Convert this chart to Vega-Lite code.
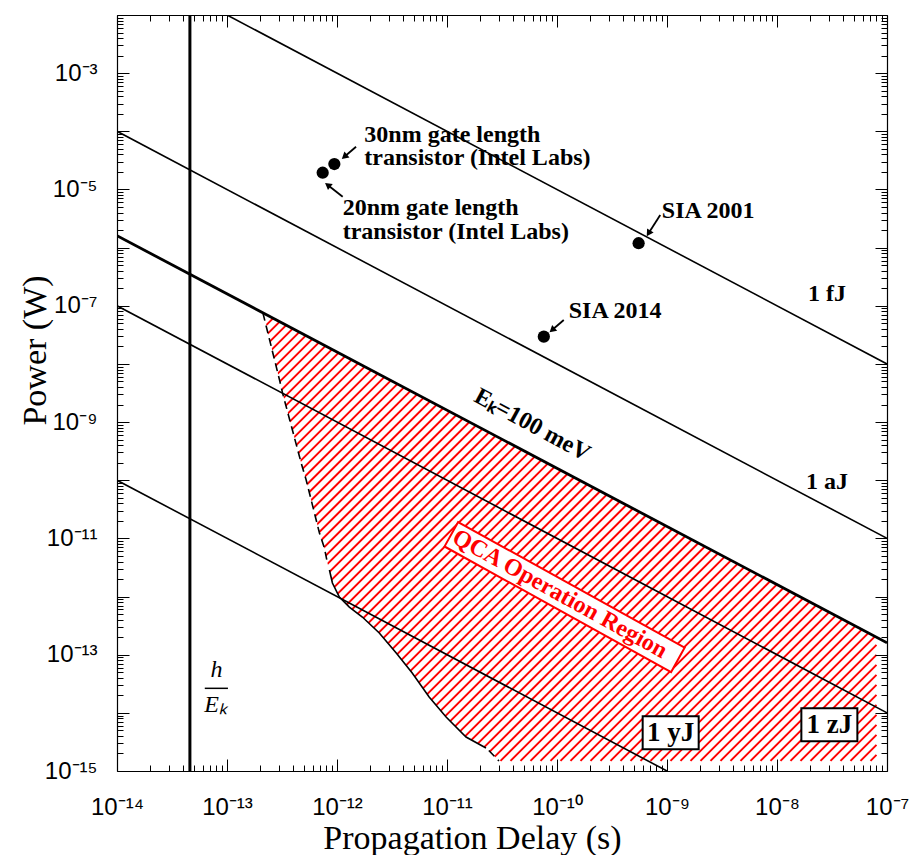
{
"$schema": "https://vega.github.io/schema/vega-lite/v6.json",
"width": 770, "height": 756,
"autosize": {"type": "none"},
"padding": {"left": 117, "top": 15, "right": 23, "bottom": 84},
"background": "white",
"config": {"view": {"stroke": null}},
"datasets": {
 "boundary": [
  {"seg": "dash1", "t": 2.120e-13, "P": 7.557e-8},
  {"seg": "dash1", "t": 3.004e-13, "P": 5.285e-9},
  {"seg": "dash1", "t": 3.199e-13, "P": 3.159e-9},
  {"seg": "dash1", "t": 4.726e-13, "P": 1.976e-10},
  {"seg": "dash1", "t": 5.246e-13, "P": 1.008e-10},
  {"seg": "dash1", "t": 6.925e-13, "P": 1.236e-11},
  {"seg": "dash1", "t": 7.686e-13, "P": 6.823e-12},
  {"seg": "dash1", "t": 8.185e-13, "P": 3.767e-12},
  {"seg": "solid", "t": 8.535e-13, "P": 2.856e-12},
  {"seg": "solid", "t": 9.085e-13, "P": 1.707e-12},
  {"seg": "solid", "t": 1.051e-12, "P": 9.80e-13},
  {"seg": "solid", "t": 1.295e-12, "P": 6.597e-13},
  {"seg": "solid", "t": 1.700e-12, "P": 4.441e-13},
  {"seg": "solid", "t": 2.423e-12, "P": 2.357e-13},
  {"seg": "solid", "t": 3.455e-12, "P": 1.068e-13},
  {"seg": "solid", "t": 4.828e-12, "P": 4.834e-14},
  {"seg": "solid", "t": 6.882e-12, "P": 1.869e-14},
  {"seg": "solid", "t": 9.813e-12, "P": 8.470e-15},
  {"seg": "solid", "t": 1.490e-11, "P": 3.836e-15},
  {"seg": "solid", "t": 2.262e-11, "P": 2.480e-15},
  {"seg": "dash2", "t": 2.400e-11, "P": 2.250e-15},
  {"seg": "dash2", "t": 2.967e-11, "P": 1.483e-15}
 ],
 "lines": [
  {"name": "1 fJ", "t": 1e-14, "P": 1e-1}, {"name": "1 fJ", "t": 1e-7, "P": 1e-8},
  {"name": "1 aJ", "t": 1e-14, "P": 1e-4}, {"name": "1 aJ", "t": 1e-7, "P": 1e-11},
  {"name": "1 zJ", "t": 1e-14, "P": 1e-7}, {"name": "1 zJ", "t": 1e-7, "P": 1e-14},
  {"name": "1 yJ", "t": 1e-14, "P": 1e-10}, {"name": "1 yJ", "t": 1e-9, "P": 1e-15},
  {"name": "Ek", "t": 1e-14, "P": 1.602e-6}, {"name": "Ek", "t": 1e-7, "P": 1.602e-13}
 ],
 "devices": [
  {"name": "30nm", "t": 9.46e-13, "P": 2.74e-5},
  {"name": "20nm", "t": 7.41e-13, "P": 1.94e-5},
  {"name": "SIA 2001", "t": 5.52e-10, "P": 1.19e-6},
  {"name": "SIA 2014", "t": 7.59e-11, "P": 2.94e-8}
 ],
 "arrows": [
  {"name": "SIA 2001", "t0": 8.68e-10, "P0": 3.635e-6, "t1": 6.796e-10, "P1": 1.762e-6, "dir": 212.6},
  {"name": "SIA 2014", "t0": 1.152e-10, "P0": 5.689e-8, "t1": 9.03e-11, "P1": 3.828e-8, "dir": 229.4},
  {"name": "30nm", "t0": 1.49e-12, "P0": 5.435e-5, "t1": 1.167e-12, "P1": 3.658e-5, "dir": 229.4},
  {"name": "20nm", "t0": 1.126e-12, "P0": 7.503e-6, "t1": 8.234e-13, "P1": 1.193e-5, "dir": 307.9}
 ],
 "labels": [
  {"text": ["30nm gate length", "transistor (Intel Labs)"], "t": 1.772e-12, "P": 6.625e-5},
  {"text": ["20nm gate length", "transistor (Intel Labs)"], "t": 1.126e-12, "P": 3.635e-6},
  {"text": ["SIA 2001"], "t": 8.97e-10, "P": 3.19e-6},
  {"text": ["SIA 2014"], "t": 1.279e-10, "P": 6.23e-8},
  {"text": ["1 fJ"], "t": 1.918e-8, "P": 1.207e-7},
  {"text": ["1 aJ"], "t": 1.839e-8, "P": 7.06e-11}
 ],
 "boxes": [
  {"text": "1 yJ", "t": 1.080e-9, "P": 4.548e-15},
  {"text": "1 zJ", "t": 2.992e-8, "P": 6.243e-15}
 ]
},
"resolve": {"axis": {"x": "independent", "y": "independent"}},
"layer": [
 {
  "data": {"values": [{"name": "QCA Operation Region", "t": 1.2988e-10, "P": 1.060e-11}]},
  "mark": {"type": "point", "clip": true, "filled": false, "color": "red", "stroke": "red", "strokeWidth": 2, "opacity": 1, "size": 4,
   "shape": "M-303,-222L-301,-224M-303,-212L-291,-224M-303,-202L-281,-224M-303,-192L-271,-224M-303,-182L-261,-224M-303,-172L-251,-224M-303,-162L-241,-224M-303,-152L-231,-224M-303,-142L-221,-224M-303,-132L-211,-224M-303,-122L-201,-224M-303,-112L-191,-224M-303,-102L-181,-224M-303,-92L-171,-224M-303,-82L-161,-224M-303,-72L-151,-224M-303,-62L-141,-224M-303,-52L-131,-224M-303,-42L-121,-224M-303,-32L-111,-224M-303,-22L-101,-224M-303,-12L-91,-224M-303,-2L-81,-224M-303,8L-71,-224M-303,18L-61,-224M-303,28L-51,-224M-303,38L-41,-224M-303,48L-31,-224M-303,58L-21,-224M-303,68L-11,-224M-303,78L-1,-224M-303,88L9,-224M-303,98L19,-224M-303,108L29,-224M-303,118L39,-224M-303,128L49,-224M-303,138L59,-224M-303,148L69,-224M-303,158L79,-224M-303,168L89,-224M-303,178L99,-224M-303,188L109,-224M-303,198L119,-224M-303,208L129,-224M-303,218L139,-224M-299,224L149,-224M-289,224L159,-224M-279,224L169,-224M-269,224L179,-224M-259,224L189,-224M-249,224L199,-224M-239,224L209,-224M-229,224L219,-224M-219,224L229,-224M-209,224L239,-224M-199,224L249,-224M-189,224L259,-224M-179,224L269,-224M-169,224L279,-224M-159,224L289,-224M-149,224L299,-224M-139,224L307,-222M-129,224L307,-212M-119,224L307,-202M-109,224L307,-192M-99,224L307,-182M-89,224L307,-172M-79,224L307,-162M-69,224L307,-152M-59,224L307,-142M-49,224L307,-132M-39,224L307,-122M-29,224L307,-112M-19,224L307,-102M-9,224L307,-92M1,224L307,-82M11,224L307,-72M21,224L307,-62M31,224L307,-52M41,224L307,-42M51,224L307,-32M61,224L307,-22M71,224L307,-12M81,224L307,-2M91,224L307,8M101,224L307,18M111,224L307,28M121,224L307,38M131,224L307,48M141,224L307,58M151,224L307,68M161,224L307,78M171,224L307,88M181,224L307,98M191,224L307,108M201,224L307,118M211,224L307,128M221,224L307,138M231,224L307,148M241,224L307,158M251,224L307,168M261,224L307,178M271,224L307,188M281,224L307,198M291,224L307,208M301,224L307,218"},
  "encoding": {
   "x": {"field": "t", "type": "quantitative", "scale": {"type": "log", "domain": [1e-14, 1e-7], "nice": false}, "axis": null},
   "y": {"field": "P", "type": "quantitative", "scale": {"type": "log", "domain": [1e-15, 1e-2], "nice": false}, "axis": null}
  }
 },
 {
  "data": {"name": "lines"},
  "transform": [{"filter": "datum.name === 'Ek'"}],
  "mark": {"type": "area", "clip": true, "color": "white", "opacity": 1},
  "encoding": {
   "x": {"field": "t", "type": "quantitative", "scale": {"type": "log", "domain": [1e-14, 1e-7], "nice": false}, "axis": null},
   "y": {"field": "P", "type": "quantitative", "scale": {"type": "log", "domain": [1e-15, 1e-2], "nice": false}, "axis": null},
   "y2": {"datum": 0.01}
  }
 },
 {
  "data": {"name": "boundary"},
  "mark": {"type": "area", "clip": true, "color": "white", "opacity": 1},
  "encoding": {
   "x": {"field": "t", "type": "quantitative", "scale": {"type": "log", "domain": [1e-14, 1e-7], "nice": false}, "axis": null},
   "y": {"field": "P", "type": "quantitative", "scale": {"type": "log", "domain": [1e-15, 1e-2], "nice": false}, "axis": null},
   "y2": {"datum": 1e-15}
  }
 },
 {
  "data": {"name": "boundary"},
  "transform": [{"filter": "datum.seg !== 'solid'"}],
  "mark": {"type": "line", "clip": true, "color": "black", "strokeWidth": 1.6, "strokeDash": [8, 5]},
  "encoding": {
   "x": {"field": "t", "type": "quantitative", "scale": {"type": "log", "domain": [1e-14, 1e-7], "nice": false}, "axis": null},
   "y": {"field": "P", "type": "quantitative", "scale": {"type": "log", "domain": [1e-15, 1e-2], "nice": false}, "axis": null},
   "detail": {"field": "seg"}
  }
 },
 {
  "data": {"name": "boundary"},
  "transform": [{"filter": "datum.seg === 'solid'"}],
  "mark": {"type": "line", "clip": true, "color": "black", "strokeWidth": 1.6},
  "encoding": {
   "x": {"field": "t", "type": "quantitative", "scale": {"type": "log", "domain": [1e-14, 1e-7], "nice": false}, "axis": null},
   "y": {"field": "P", "type": "quantitative", "scale": {"type": "log", "domain": [1e-15, 1e-2], "nice": false}, "axis": null}
  }
 },
 {
  "data": {"name": "lines"},
  "transform": [{"filter": "datum.name !== 'Ek'"}],
  "mark": {"type": "line", "clip": true, "color": "black", "strokeWidth": 1.6},
  "encoding": {
   "x": {"field": "t", "type": "quantitative", "scale": {"type": "log", "domain": [1e-14, 1e-7], "nice": false},
    "axis": {"orient": "bottom", "zindex": 1,
     "values": [1e-14,2e-14,3e-14,4e-14,5e-14,6e-14,7e-14,8e-14,9e-14,1e-13,2e-13,3e-13,4e-13,5e-13,6e-13,7e-13,8e-13,9e-13,1e-12,2e-12,3e-12,4e-12,5e-12,6e-12,7e-12,8e-12,9e-12,1e-11,2e-11,3e-11,4e-11,5e-11,6e-11,7e-11,8e-11,9e-11,1e-10,2e-10,3e-10,4e-10,5e-10,6e-10,7e-10,8e-10,9e-10,1e-9,2e-9,3e-9,4e-9,5e-9,6e-9,7e-9,8e-9,9e-9,1e-8,2e-8,3e-8,4e-8,5e-8,6e-8,7e-8,8e-8,9e-8,1e-7],
     "tickSize": {"condition": {"test": "abs(log(datum.value)/LN10-round(log(datum.value)/LN10))<0.001", "value": -12}, "value": -6},
     "tickColor": "black", "tickWidth": 1, "domain": true, "domainColor": "black", "domainWidth": 1.2, "grid": false,
     "labelExpr": "abs(log(datum.value)/LN10-round(log(datum.value)/LN10))<0.001 ? '10⁻' + ((-round(log(datum.value)/LN10)) >= 10 ? '⁰¹²³⁴⁵⁶⁷⁸⁹'[floor((-round(log(datum.value)/LN10))/10)] : '') + '⁰¹²³⁴⁵⁶⁷⁸⁹'[(-round(log(datum.value)/LN10))%10] : ''",
     "labelFont": "Liberation Sans", "labelFontSize": 24, "labelColor": "black", "labelPadding": 55, "labelBaseline": "alphabetic", "labelAlign": "center",
     "labelOverlap": false, "labelFlush": false, "labelBound": false,
     "title": "Propagation Delay (s)", "titleFont": "Liberation Serif", "titleFontSize": 34, "titleFontWeight": "normal", "titleColor": "black",
     "titleX": 355, "titleY": 77, "titleBaseline": "alphabetic", "titleAlign": "center"}},
   "y": {"field": "P", "type": "quantitative", "scale": {"type": "log", "domain": [1e-15, 1e-2], "nice": false},
    "axis": {"orient": "left", "zindex": 1,
     "values": [1e-15,2e-15,3e-15,4e-15,5e-15,6e-15,7e-15,8e-15,9e-15,1e-14,2e-14,3e-14,4e-14,5e-14,6e-14,7e-14,8e-14,9e-14,1e-13,2e-13,3e-13,4e-13,5e-13,6e-13,7e-13,8e-13,9e-13,1e-12,2e-12,3e-12,4e-12,5e-12,6e-12,7e-12,8e-12,9e-12,1e-11,2e-11,3e-11,4e-11,5e-11,6e-11,7e-11,8e-11,9e-11,1e-10,2e-10,3e-10,4e-10,5e-10,6e-10,7e-10,8e-10,9e-10,1e-9,2e-9,3e-9,4e-9,5e-9,6e-9,7e-9,8e-9,9e-9,1e-8,2e-8,3e-8,4e-8,5e-8,6e-8,7e-8,8e-8,9e-8,1e-7,2e-7,3e-7,4e-7,5e-7,6e-7,7e-7,8e-7,9e-7,1e-6,2e-6,3e-6,4e-6,5e-6,6e-6,7e-6,8e-6,9e-6,1e-5,2e-5,3e-5,4e-5,5e-5,6e-5,7e-5,8e-5,9e-5,1e-4,2e-4,3e-4,4e-4,5e-4,6e-4,7e-4,8e-4,9e-4,1e-3,2e-3,3e-3,4e-3,5e-3,6e-3,7e-3,8e-3,9e-3,1e-2],
     "tickSize": {"condition": {"test": "abs(log(datum.value)/LN10-round(log(datum.value)/LN10))<0.001", "value": -12}, "value": -6},
     "tickColor": "black", "tickWidth": 1, "domain": true, "domainColor": "black", "domainWidth": 1.2, "grid": false,
     "labelExpr": "abs(log(datum.value)/LN10-round(log(datum.value)/LN10))<0.001 && (-round(log(datum.value)/LN10))%2==1 ? '10⁻' + ((-round(log(datum.value)/LN10)) >= 10 ? '⁰¹²³⁴⁵⁶⁷⁸⁹'[floor((-round(log(datum.value)/LN10))/10)] : '') + '⁰¹²³⁴⁵⁶⁷⁸⁹'[(-round(log(datum.value)/LN10))%10] : ''",
     "labelFont": "Liberation Sans", "labelFontSize": 24, "labelColor": "black", "labelPadding": 32, "labelBaseline": "middle", "labelAlign": "right",
     "labelOverlap": false, "labelFlush": false, "labelBound": false,
     "title": "Power (W)", "titleFont": "Liberation Serif", "titleFontSize": 34, "titleFontWeight": "normal", "titleColor": "black",
     "titleX": -72, "titleY": 335, "titleBaseline": "alphabetic", "titleAlign": "center", "titleAngle": 270}},
   "detail": {"field": "name"}
  }
 },
 {
  "data": {"name": "lines"},
  "transform": [{"filter": "datum.name === 'Ek'"}],
  "mark": {"type": "line", "clip": true, "color": "black", "strokeWidth": 2.8},
  "encoding": {
   "x": {"field": "t", "type": "quantitative", "scale": {"type": "log", "domain": [1e-14, 1e-7], "nice": false},
    "axis": {"orient": "top", "zindex": 1, "values": [1e-14,2e-14,3e-14,4e-14,5e-14,6e-14,7e-14,8e-14,9e-14,1e-13,2e-13,3e-13,4e-13,5e-13,6e-13,7e-13,8e-13,9e-13,1e-12,2e-12,3e-12,4e-12,5e-12,6e-12,7e-12,8e-12,9e-12,1e-11,2e-11,3e-11,4e-11,5e-11,6e-11,7e-11,8e-11,9e-11,1e-10,2e-10,3e-10,4e-10,5e-10,6e-10,7e-10,8e-10,9e-10,1e-9,2e-9,3e-9,4e-9,5e-9,6e-9,7e-9,8e-9,9e-9,1e-8,2e-8,3e-8,4e-8,5e-8,6e-8,7e-8,8e-8,9e-8,1e-7],
     "tickSize": {"condition": {"test": "abs(log(datum.value)/LN10-round(log(datum.value)/LN10))<0.001", "value": -12}, "value": -6},
     "tickColor": "black", "tickWidth": 1, "domain": true, "domainColor": "black", "domainWidth": 1.2, "grid": false, "labels": false, "title": null}},
   "y": {"field": "P", "type": "quantitative", "scale": {"type": "log", "domain": [1e-15, 1e-2], "nice": false},
    "axis": {"orient": "right", "zindex": 1, "values": [1e-15,2e-15,3e-15,4e-15,5e-15,6e-15,7e-15,8e-15,9e-15,1e-14,2e-14,3e-14,4e-14,5e-14,6e-14,7e-14,8e-14,9e-14,1e-13,2e-13,3e-13,4e-13,5e-13,6e-13,7e-13,8e-13,9e-13,1e-12,2e-12,3e-12,4e-12,5e-12,6e-12,7e-12,8e-12,9e-12,1e-11,2e-11,3e-11,4e-11,5e-11,6e-11,7e-11,8e-11,9e-11,1e-10,2e-10,3e-10,4e-10,5e-10,6e-10,7e-10,8e-10,9e-10,1e-9,2e-9,3e-9,4e-9,5e-9,6e-9,7e-9,8e-9,9e-9,1e-8,2e-8,3e-8,4e-8,5e-8,6e-8,7e-8,8e-8,9e-8,1e-7,2e-7,3e-7,4e-7,5e-7,6e-7,7e-7,8e-7,9e-7,1e-6,2e-6,3e-6,4e-6,5e-6,6e-6,7e-6,8e-6,9e-6,1e-5,2e-5,3e-5,4e-5,5e-5,6e-5,7e-5,8e-5,9e-5,1e-4,2e-4,3e-4,4e-4,5e-4,6e-4,7e-4,8e-4,9e-4,1e-3,2e-3,3e-3,4e-3,5e-3,6e-3,7e-3,8e-3,9e-3,1e-2],
     "tickSize": {"condition": {"test": "abs(log(datum.value)/LN10-round(log(datum.value)/LN10))<0.001", "value": -12}, "value": -6},
     "tickColor": "black", "tickWidth": 1, "domain": true, "domainColor": "black", "domainWidth": 1.2, "grid": false, "labels": false, "title": null}}
  }
 },
 {
  "data": {"values": [{"name": "h/Ek", "t": 4.6e-14}]},
  "mark": {"type": "rule", "clip": true, "color": "black", "strokeWidth": 3},
  "encoding": {
   "x": {"field": "t", "type": "quantitative", "scale": {"type": "log", "domain": [1e-14, 1e-7], "nice": false}, "axis": null}
  }
 },
 {
  "data": {"name": "devices"},
  "mark": {"type": "circle", "size": 150, "color": "black", "opacity": 1},
  "encoding": {
   "x": {"field": "t", "type": "quantitative", "scale": {"type": "log", "domain": [1e-14, 1e-7], "nice": false}, "axis": null},
   "y": {"field": "P", "type": "quantitative", "scale": {"type": "log", "domain": [1e-15, 1e-2], "nice": false}, "axis": null}
  }
 },
 {
  "data": {"name": "arrows"},
  "mark": {"type": "rule", "color": "black", "strokeWidth": 1.8},
  "encoding": {
   "x": {"field": "t0", "type": "quantitative", "scale": {"type": "log", "domain": [1e-14, 1e-7], "nice": false}, "axis": null},
   "y": {"field": "P0", "type": "quantitative", "scale": {"type": "log", "domain": [1e-15, 1e-2], "nice": false}, "axis": null},
   "x2": {"field": "t1"},
   "y2": {"field": "P1"}
  }
 },
 {
  "data": {"name": "arrows"},
  "mark": {"type": "point", "shape": "triangle-up", "filled": true, "color": "black", "size": 60, "opacity": 1},
  "encoding": {
   "x": {"field": "t1", "type": "quantitative", "scale": {"type": "log", "domain": [1e-14, 1e-7], "nice": false}, "axis": null},
   "y": {"field": "P1", "type": "quantitative", "scale": {"type": "log", "domain": [1e-15, 1e-2], "nice": false}, "axis": null},
   "angle": {"field": "dir", "type": "quantitative", "scale": null}
  }
 },
 {
  "data": {"name": "labels"},
  "mark": {"type": "text", "font": "Liberation Serif", "fontWeight": "bold", "fontSize": 24, "align": "left", "baseline": "alphabetic", "lineHeight": 23.5, "color": "black"},
  "encoding": {
   "x": {"field": "t", "type": "quantitative", "scale": {"type": "log", "domain": [1e-14, 1e-7], "nice": false}, "axis": null},
   "y": {"field": "P", "type": "quantitative", "scale": {"type": "log", "domain": [1e-15, 1e-2], "nice": false}, "axis": null},
   "text": {"field": "text"}
  }
 },
 {
  "data": {"values": [{"text": "Eₖ=100 meV", "t": 5.944e-11, "P": 8.898e-10}]},
  "mark": {"type": "text", "font": "Liberation Serif", "fontWeight": "bold", "fontSize": 24, "align": "center", "baseline": "middle", "angle": 28.5, "color": "black"},
  "encoding": {
   "x": {"field": "t", "type": "quantitative", "scale": {"type": "log", "domain": [1e-14, 1e-7], "nice": false}, "axis": null},
   "y": {"field": "P", "type": "quantitative", "scale": {"type": "log", "domain": [1e-15, 1e-2], "nice": false}, "axis": null},
   "text": {"field": "text"}
  }
 },
 {
  "data": {"name": "boxes"},
  "mark": {"type": "point", "shape": "M-1,-0.59L1,-0.59L1,0.59L-1,0.59Z", "size": 3136, "filled": true, "fill": "white", "stroke": "black", "strokeWidth": 2, "opacity": 1},
  "encoding": {
   "x": {"field": "t", "type": "quantitative", "scale": {"type": "log", "domain": [1e-14, 1e-7], "nice": false}, "axis": null},
   "y": {"field": "P", "type": "quantitative", "scale": {"type": "log", "domain": [1e-15, 1e-2], "nice": false}, "axis": null}
  }
 },
 {
  "data": {"name": "boxes"},
  "mark": {"type": "text", "font": "Liberation Serif", "fontWeight": "bold", "fontSize": 27, "align": "center", "baseline": "middle", "color": "black"},
  "encoding": {
   "x": {"field": "t", "type": "quantitative", "scale": {"type": "log", "domain": [1e-14, 1e-7], "nice": false}, "axis": null},
   "y": {"field": "P", "type": "quantitative", "scale": {"type": "log", "domain": [1e-15, 1e-2], "nice": false}, "axis": null},
   "text": {"field": "text"}
  }
 },
 {
  "data": {"values": [{"text": "QCA Operation Region", "t": 1.172e-10, "P": 9.80e-13}]},
  "mark": {"type": "point", "shape": "M-1,-0.108L1,-0.108L1,0.108L-1,0.108Z", "size": 67081, "angle": 29, "filled": true, "fill": "white", "stroke": "red", "strokeWidth": 2, "opacity": 1},
  "encoding": {
   "x": {"field": "t", "type": "quantitative", "scale": {"type": "log", "domain": [1e-14, 1e-7], "nice": false}, "axis": null},
   "y": {"field": "P", "type": "quantitative", "scale": {"type": "log", "domain": [1e-15, 1e-2], "nice": false}, "axis": null}
  }
 },
 {
  "data": {"values": [{"text": "QCA Operation Region", "t": 1.060e-10, "P": 1.104e-12}]},
  "mark": {"type": "text", "font": "Liberation Serif", "fontWeight": "bold", "fontSize": 24, "align": "center", "baseline": "middle", "angle": 29, "color": "red"},
  "encoding": {
   "x": {"field": "t", "type": "quantitative", "scale": {"type": "log", "domain": [1e-14, 1e-7], "nice": false}, "axis": null},
   "y": {"field": "P", "type": "quantitative", "scale": {"type": "log", "domain": [1e-15, 1e-2], "nice": false}, "axis": null},
   "text": {"field": "text"}
  }
 },
 {
  "data": {"values": [{"text": "h", "t": 8.02e-14, "P": 4.18e-14}]},
  "mark": {"type": "text", "font": "Liberation Serif", "fontStyle": "italic", "fontSize": 24, "align": "center", "baseline": "alphabetic", "color": "black"},
  "encoding": {
   "x": {"field": "t", "type": "quantitative", "scale": {"type": "log", "domain": [1e-14, 1e-7], "nice": false}, "axis": null},
   "y": {"field": "P", "type": "quantitative", "scale": {"type": "log", "domain": [1e-15, 1e-2], "nice": false}, "axis": null},
   "text": {"field": "text"}
  }
 },
 {
  "data": {"values": [{"t0": 6.28e-14, "t1": 1.02e-13, "P": 2.64e-14}]},
  "mark": {"type": "rule", "color": "black", "strokeWidth": 1.5},
  "encoding": {
   "x": {"field": "t0", "type": "quantitative", "scale": {"type": "log", "domain": [1e-14, 1e-7], "nice": false}, "axis": null},
   "x2": {"field": "t1"},
   "y": {"field": "P", "type": "quantitative", "scale": {"type": "log", "domain": [1e-15, 1e-2], "nice": false}, "axis": null}
  }
 },
 {
  "data": {"values": [{"text": "Eₖ", "t": 6.2e-14, "P": 1.04e-14}]},
  "mark": {"type": "text", "font": "Liberation Serif", "fontStyle": "italic", "fontSize": 24, "align": "left", "baseline": "alphabetic", "color": "black"},
  "encoding": {
   "x": {"field": "t", "type": "quantitative", "scale": {"type": "log", "domain": [1e-14, 1e-7], "nice": false}, "axis": null},
   "y": {"field": "P", "type": "quantitative", "scale": {"type": "log", "domain": [1e-15, 1e-2], "nice": false}, "axis": null},
   "text": {"field": "text"}
  }
 }
]
}
